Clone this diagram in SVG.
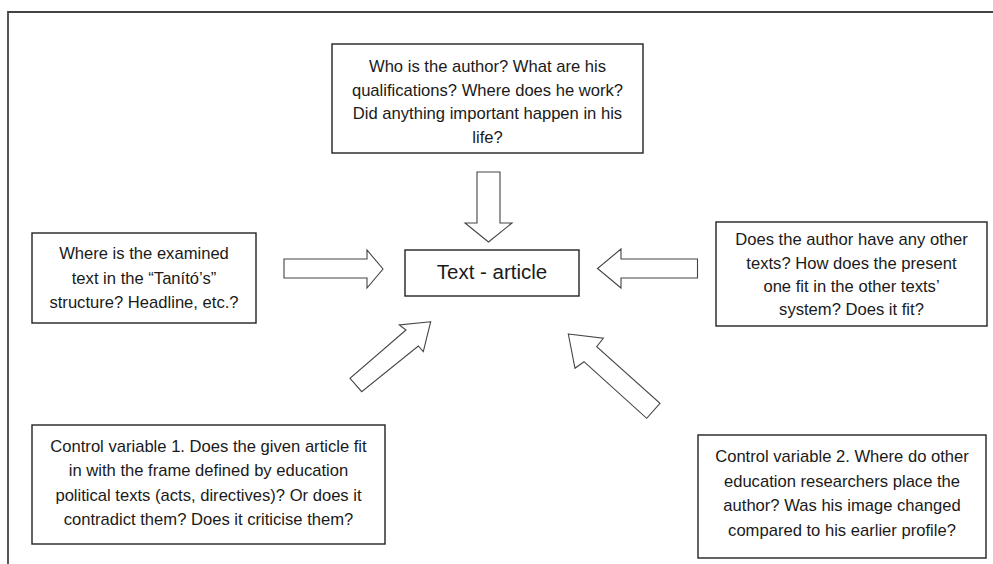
<svg xmlns="http://www.w3.org/2000/svg" width="993" height="564" viewBox="0 0 993 564">
<style>
.box{fill:#fff;stroke:#222;stroke-width:1.4}
.t{font-family:"Liberation Sans",Arial,sans-serif;font-size:16.6px;fill:#1a1a1a;text-anchor:middle}
.big{font-size:20.5px}
.arr{fill:#fff;stroke:#444;stroke-width:1.1;stroke-linejoin:miter}
.frame{fill:none;stroke:#444;stroke-width:1.8}
</style>
<rect width="993" height="564" fill="#fff"/>
<path class="frame" d="M8,564 V12 H993"/>
<g id="connectors">
<polygon class="arr" points="477,172 500,172 500,223 512,223 488.5,242 465,223 477,223"/>
<polygon class="arr" points="284,259 367,259 367,250 383,269 367,288 367,278 284,278"/>
<polygon class="arr" points="697.5,259 621,259 621,249 597.5,268.5 621,288 621,278 697.5,278"/>
<polygon class="arr" points="430.7,321.7 399.3,325 406,330 350,378.3 361.7,391.7 418.3,346 423.3,351.7"/>
<polygon class="arr" points="568.3,334 603.3,338.3 596.7,346.7 660,403.3 646.7,418.3 584,361.7 575,368.3"/>
</g>
<g id="author">
<rect class="box" x="332" y="44" width="311" height="109"/>
<text class="t" x="487.5" y="72">Who is the author? What are his</text>
<text class="t" x="487.5" y="95.5">qualifications? Where does he work?</text>
<text class="t" x="487.5" y="119">Did anything important happen in his</text>
<text class="t" x="487.5" y="142.5">life?</text>
</g>
<g id="structure">
<rect class="box" x="32" y="233" width="224" height="90"/>
<text class="t" x="144" y="258.5">Where is the examined</text>
<text class="t" x="144" y="283.5">text in the “Tanító’s”</text>
<text class="t" x="144" y="307.5">structure? Headline, etc.?</text>
</g>
<g id="article">
<rect class="box" x="405" y="250" width="174" height="46"/>
<text class="t big" x="492" y="279">Text - article</text>
</g>
<g id="othertexts">
<rect class="box" x="716" y="222" width="271" height="104"/>
<text class="t" x="851.5" y="245">Does the author have any other</text>
<text class="t" x="851.5" y="268.5">texts? How does the present</text>
<text class="t" x="851.5" y="292">one fit in the other texts’</text>
<text class="t" x="851.5" y="315">system? Does it fit?</text>
</g>
<g id="control1">
<rect class="box" x="32" y="425" width="353" height="119"/>
<text class="t" x="208.5" y="451.5">Control variable 1. Does the given article fit</text>
<text class="t" x="208.5" y="476">in with the frame defined by education</text>
<text class="t" x="208.5" y="500.5">political texts (acts, directives)? Or does it</text>
<text class="t" x="208.5" y="525">contradict them? Does it criticise them?</text>
</g>
<g id="control2">
<rect class="box" x="698" y="435" width="288" height="123"/>
<text class="t" x="842" y="462">Control variable 2. Where do other</text>
<text class="t" x="842" y="486.5">education researchers place the</text>
<text class="t" x="842" y="511">author? Was his image changed</text>
<text class="t" x="842" y="535.5">compared to his earlier profile?</text>
</g>
</svg>
